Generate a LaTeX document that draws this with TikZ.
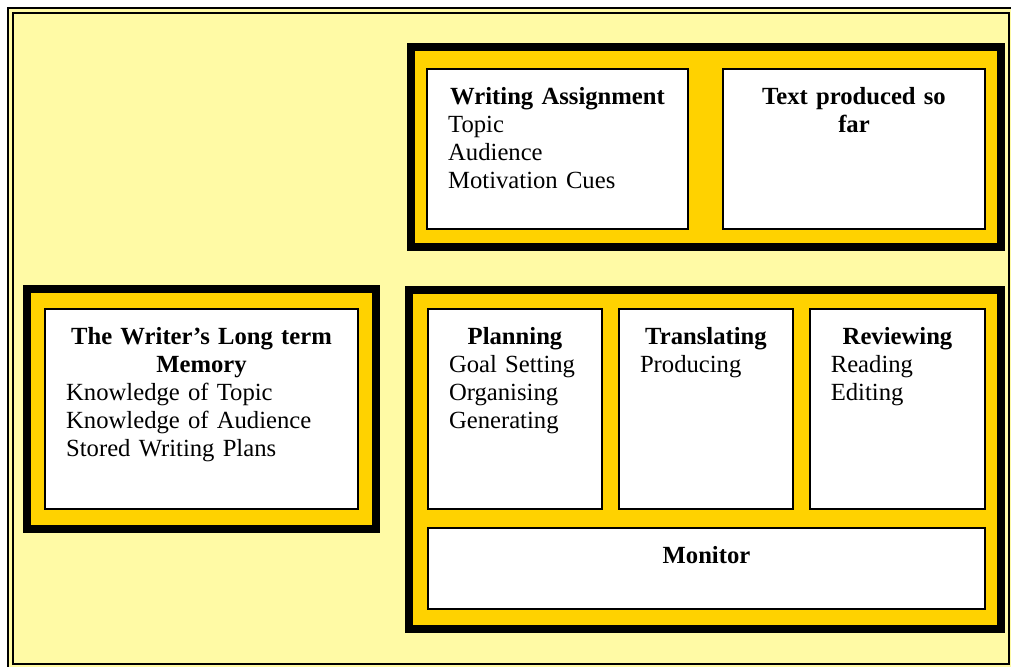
\documentclass[tikz,border=0pt]{standalone}
\usepackage{fontspec}
\setmainfont{Liberation Serif}
\usetikzlibrary{positioning,fit}
\definecolor{paleyellow}{RGB}{255,250,165}
\definecolor{gold}{RGB}{255,210,0}

\begin{document}
\begin{tikzpicture}[x=0.75pt,y=-0.75pt,
    group/.style={draw=black,line width=6pt,fill=gold},
    whitebox/.style={draw=black,line width=1.3pt,fill=white,inner sep=0pt},
    boxtext/.style={text width=#1,align=left,inner sep=0pt,
                    font=\fontsize{18.5}{21}\selectfont}]

    % Frame
    \useasboundingbox (0,0) rectangle (1011,667);
    \clip (0,0) rectangle (1011,667);
    \fill[white] (0,0) rectangle (1011,667);
    \draw[line width=2pt,fill=paleyellow] (8,8) rectangle (1016,672);
    \draw[line width=1.5pt] (13,13) rectangle (1009,664);

    % Groups
    \draw[group] (411,47) rectangle (1001,247);
    \draw[group] (27,289) rectangle (376,529);
    \draw[group] (409,290) rectangle (1001,629);

    % Boxes
    \node (wa)   [whitebox, fit={(427,69) (688,229)}] {};
    \node (tp)   [whitebox, fit={(723,69) (985,229)}] {};
    \node (mem)  [whitebox, fit={(45,309) (358,509)}] {};
    \node (plan) [whitebox, fit={(428,309) (602,509)}] {};
    \node (tran) [whitebox, fit={(619,309) (793,509)}] {};
    \node (rev)  [whitebox, fit={(810,309) (985,509)}] {};
    \node (mon)  [whitebox, fit={(428,528) (985,609)}] {};

    % Texts
    \node (wat) [boxtext=164pt, below=14pt of wa.north]
          {{\centering\bfseries Writing Assignment\par}
           Topic\\Audience\\Motivation Cues};
    \node (tpt) [boxtext=165pt, below=14pt of tp.north]
          {{\centering\bfseries Text produced so\\far\par}};
    \node (memt) [boxtext=203pt, below=14pt of mem.north]
          {{\centering\bfseries The Writer’s Long term\\Memory\par}
           Knowledge of Topic\\Knowledge of Audience\\Stored Writing Plans};
    \node (plant) [boxtext=99pt, below=14pt of plan.north]
          {{\centering\bfseries Planning\par}
           Goal Setting\\Organising\\Generating};
    \node (trant) [boxtext=99pt, below=14pt of tran.north]
          {{\centering\bfseries Translating\par}
           Producing};
    \node (revt) [boxtext=100pt, below=14pt of rev.north]
          {{\centering\bfseries Reviewing\par}
           Reading\\Editing};
    \node (mont) [boxtext=386pt, below=14pt of mon.north]
          {{\centering\bfseries Monitor\par}};

\end{tikzpicture}
\end{document}
